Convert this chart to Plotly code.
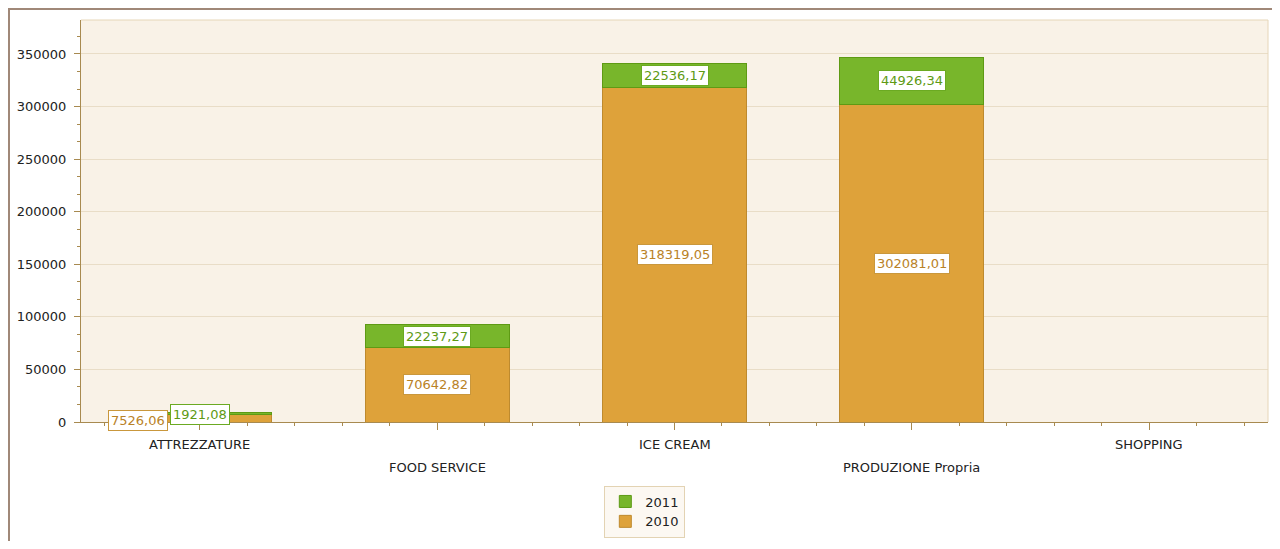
import plotly.graph_objects as go

categories = ["ATTREZZATURE", "FOOD SERVICE", "ICE CREAM", "PRODUZIONE Propria", "SHOPPING"]
values_2010 = [7526.06, 70642.82, 318319.05, 302081.01, 0]
values_2011 = [1921.08, 22237.27, 22536.17, 44926.34, 0]
series_names = ["2010", "2011"]

def fmt(v):
    return f"{v:.2f}".replace(".", ",")

FONT = "DejaVu Sans"
FS = 13
xs = list(range(len(categories)))
orange = "#DEA23A"
orange_line = "#BE8A2E"
green = "#78B62B"
green_line = "#5E9A14"

fig = go.Figure()
fig.add_trace(go.Bar(x=xs, y=values_2010, name=series_names[0], width=0.607,
                     marker=dict(color=orange, line=dict(color=orange_line, width=1))))
fig.add_trace(go.Bar(x=xs, y=values_2011, name=series_names[1], width=0.607,
                     marker=dict(color=green, line=dict(color=green_line, width=1))))

annotations = []
for i, (a, b) in enumerate(zip(values_2010, values_2011)):
    if a <= 0 and b <= 0:
        continue
    shift = -62 if i == 0 else 0
    annotations.append(dict(x=xs[i], y=a / 2, xref="x", yref="y", text=fmt(a), showarrow=False,
                            xshift=shift, yshift=(-2 if i == 0 else 0),
                            font=dict(family=FONT, size=FS, color="#B98227"),
                            bgcolor="white", bordercolor="#C9973C", borderwidth=1, borderpad=2))
    annotations.append(dict(x=xs[i], y=a + b / 2, xref="x", yref="y", text=fmt(b), showarrow=False,
                            yshift=(-1 if i == 0 else 0),
                            font=dict(family=FONT, size=FS, color="#5E9A14"),
                            bgcolor="white", bordercolor="#6BAA22", borderwidth=1, borderpad=2))

# staggered category labels (two rows)
for i, c in enumerate(categories):
    annotations.append(dict(x=xs[i], y=0, xref="x", yref="paper", text=c, showarrow=False,
                            yanchor="middle", yshift=(-22 if i % 2 == 0 else -45),
                            font=dict(family=FONT, size=FS, color="#222222")))

# page body has an 8px margin: figure origin is at (8, 8)
W, H = 1264, 533
L, T = 73, 12
R = W - (1268 - 8)
B = H - (422 - 8)

fig.update_layout(
    width=W, height=H,
    barmode="stack",
    paper_bgcolor="white",
    plot_bgcolor="#F9F2E7",
    margin=dict(l=L, r=R, t=T, b=B),
    font=dict(family=FONT, size=FS, color="#222222"),
    annotations=annotations,
    showlegend=True,
    legend=dict(orientation="v", x=0.475, xanchor="center", y=-0.158, yanchor="top",
                traceorder="reversed", bgcolor="#FCF8F2", bordercolor="#E3D3B3", borderwidth=1,
                font=dict(family=FONT, size=FS, color="#222222"), itemwidth=30),
    xaxis=dict(range=[-0.5, 4.5], tickmode="array", tickvals=xs, ticktext=[""] * len(xs),
               showgrid=False, zeroline=False, showline=True, linecolor="#A88A50", linewidth=1,
               ticks="outside", ticklen=7, tickcolor="#A88A50",
               minor=dict(dtick=0.2, tick0=0, ticks="outside", ticklen=3, tickcolor="#A88A50", showgrid=False)),
    yaxis=dict(range=[0, 382300], tickmode="linear", tick0=0, dtick=50000, tickformat="d",
               showgrid=True, gridcolor="#E9DDC7", gridwidth=1, zeroline=False,
               showline=True, linecolor="#A88A50", linewidth=1,
               ticks="outside", ticklen=6, tickcolor="#A88A50", ticklabelstandoff=5,
               minor=dict(dtick=50000 / 3, tick0=0, ticks="outside", ticklen=3, tickcolor="#A88A50", showgrid=False),
               tickfont=dict(family=FONT, size=FS, color="#222222")),
    shapes=[
        dict(type="rect", xref="paper", yref="paper",
             x0=-(L - 1) / (W - L - R), x1=1.2, y0=-1, y1=1 + (T - 1) / (H - T - B),
             line=dict(color="#A08878", width=2), fillcolor="rgba(0,0,0,0)", layer="below"),
        dict(type="line", xref="paper", yref="paper", x0=0, x1=1, y0=1, y1=1,
             line=dict(color="#E6D6B8", width=1)),
        dict(type="line", xref="paper", yref="paper", x0=1, x1=1, y0=0, y1=1,
             line=dict(color="#E6D6B8", width=1)),
    ],
)

fig.write_html("out.html")
